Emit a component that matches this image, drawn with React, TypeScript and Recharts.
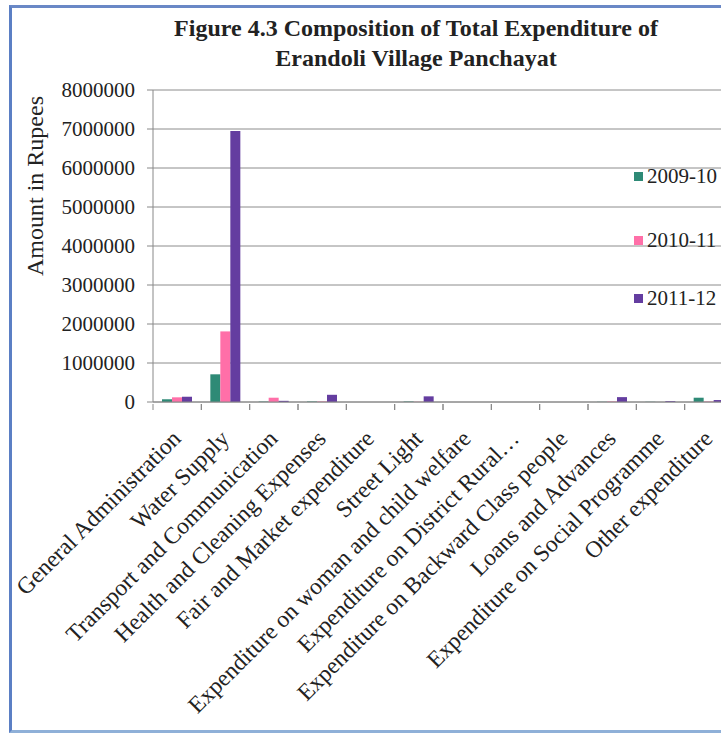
import React from 'react'
import {
  Bar,
  BarChart,
  CartesianGrid,
  XAxis,
  YAxis,
} from 'recharts'

const categories = [
  'General Administration',
  'Water Supply',
  'Transport and Communication',
  'Health and Cleaning Expenses',
  'Fair and Market expenditure',
  'Street Light',
  'Expenditure on woman and child welfare',
  'Expenditure on District Rural…',
  'Expenditure on Backward Class people',
  'Loans and Advances',
  'Expenditure on Social Programme',
  'Other expenditure',
]

const exp200910 = [70000, 710000, 10000, 12000, 0, 12000, 0, 0, 0, 5000, 5000, 110000]
const exp201011 = [120000, 1810000, 110000, 12000, 0, 5000, 0, 0, 0, 12000, 0, 10000]
const exp201112 = [135000, 6950000, 30000, 185000, 0, 145000, 0, 0, 0, 125000, 22000, 50000]

const yTicks = [0, 1000000, 2000000, 3000000, 4000000, 5000000, 6000000, 7000000, 8000000]

const seriesNames = ['2009-10', '2010-11', '2011-12']
const colors = ['#2e8a76', '#ff6fa8', '#643da0']

const data = categories.map((name, i) => ({
  name,
  a: exp200910[i],
  b: exp201011[i],
  c: exp201112[i],
}))

const FONT = '"Liberation Serif", "Times New Roman", serif'
const BAND = 580 / categories.length

const CategoryTick = (props: any) => {
  const { x, y, payload } = props
  const tx = x + 5
  const ty = y + 30
  return (
    <g>
      <line x1={x - BAND / 2} y1={y - 6} x2={x - BAND / 2} y2={y} stroke="#888" />
      <line x1={x + BAND / 2} y1={y - 6} x2={x + BAND / 2} y2={y} stroke="#888" />
      <text
        x={tx}
        y={ty}
        transform={`rotate(-45, ${tx}, ${ty})`}
        textAnchor="end"
        fontFamily={FONT}
        fontSize={23.5}
        fill="#222"
      >
        {payload.value}
      </text>
    </g>
  )
}

export default function App() {
  return (
    <div
      style={{
        position: 'fixed',
        left: 0,
        top: 0,
        width: 721,
        height: 735,
        overflow: 'hidden',
        background: '#fff',
      }}
    >
      <div
        style={{
          position: 'absolute',
          left: 9,
          top: 5,
          width: 800,
          height: 722,
          borderLeft: '3px solid #5b7fc4',
          borderTop: '3px solid #6a88c6',
          borderBottom: '3px solid #8fb0d8',
        }}
      />
      <div
        style={{
          position: 'absolute',
          left: 66,
          top: 13,
          width: 700,
          textAlign: 'center',
          fontFamily: FONT,
          fontWeight: 'bold',
          fontSize: 24,
          lineHeight: '30px',
          color: '#222',
        }}
      >
        Figure 4.3 Composition of Total Expenditure of
        <br />
        Erandoli Village Panchayat
      </div>
      <div style={{ position: 'absolute', left: 0, top: 0 }}>
        <BarChart
          width={780}
          height={735}
          data={data}
          margin={{ top: 90, right: 47, left: 0, bottom: 0 }}
          barGap={0}
          barSize={10}
        >
          <CartesianGrid vertical={false} stroke="#8c8c8c" />
          <XAxis
            dataKey="name"
            interval={0}
            height={333}
            stroke="#888"
            tickLine={false}
            tick={<CategoryTick />}
          />
          <YAxis
            width={153}
            domain={[0, 8000000]}
            ticks={yTicks}
            interval={0}
            stroke="#888"
            tickSize={6}
            tickMargin={12}
            tick={{ fontFamily: FONT, fontSize: 21, fill: '#222' }}
            label={{
              content: () => (
                <text
                  x={43}
                  y={186}
                  transform="rotate(-90, 43, 186)"
                  textAnchor="middle"
                  fontFamily={FONT}
                  fontSize={24}
                  fill="#222"
                >
                  Amount in Rupees
                </text>
              ),
            }}
          />
          <Bar dataKey="a" name={seriesNames[0]} fill={colors[0]} isAnimationActive={false} />
          <Bar dataKey="b" name={seriesNames[1]} fill={colors[1]} isAnimationActive={false} />
          <Bar dataKey="c" name={seriesNames[2]} fill={colors[2]} isAnimationActive={false} />
        </BarChart>
      </div>
      <div
        style={{
          position: 'absolute',
          left: 634,
          top: 163,
          fontFamily: FONT,
          fontSize: 21,
          color: '#222',
          whiteSpace: 'nowrap',
        }}
      >
        {seriesNames.map((s, i) => (
          <div
            key={s}
            style={{ display: 'flex', alignItems: 'center', height: 26, marginBottom: i === 0 ? 38 : 32 }}
          >
            <span
              style={{ width: 9, height: 9, background: colors[i], marginRight: 4, display: 'inline-block' }}
            />
            <span>{s}</span>
          </div>
        ))}
      </div>
    </div>
  )
}
